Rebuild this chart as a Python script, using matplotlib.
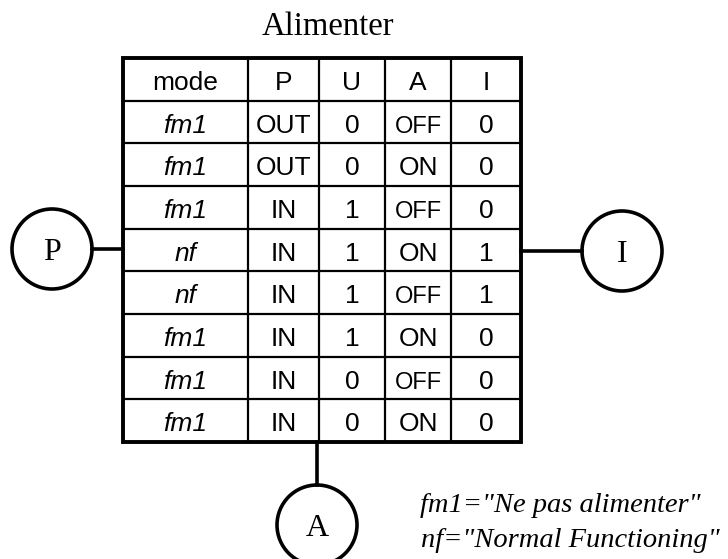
import matplotlib
matplotlib.use("Agg")
import matplotlib.pyplot as plt
from matplotlib.patches import Circle, Rectangle

# ---- data ----
title = "Alimenter"
columns = ["mode", "P", "U", "A", "I"]
mode = ["fm1", "fm1", "fm1", "nf", "nf", "fm1", "fm1", "fm1"]
P = ["OUT", "OUT", "IN", "IN", "IN", "IN", "IN", "IN"]
U = ["0", "0", "1", "1", "1", "1", "0", "0"]
A = ["OFF", "ON", "OFF", "ON", "OFF", "ON", "OFF", "ON"]
I = ["0", "0", "0", "1", "1", "0", "0", "0"]
ports = ["P", "I", "A"]
notes = ['fm1="Ne pas alimenter"', 'nf="Normal Functioning"']

# ---- layout (pixel space) ----
W, H = 728, 559
fig = plt.figure(figsize=(W / 100, H / 100), dpi=100)
ax = fig.add_axes([0, 0, 1, 1])
ax.set_xlim(0, W)
ax.set_ylim(H, 0)
ax.axis("off")

col_x = [123, 248, 319, 385, 451, 521]
top, bottom = 58, 442
nrows = len(mode) + 1
row_h = (bottom - top) / nrows
row_y = [top + i * row_h for i in range(nrows + 1)]

# inner grid lines
for x in col_x[1:-1]:
    ax.plot([x, x], [top, bottom], color="black", lw=1.6, solid_capstyle="butt")
for y in row_y[1:-1]:
    ax.plot([col_x[0], col_x[-1]], [y, y], color="black", lw=1.6, solid_capstyle="butt")
ax.add_patch(Rectangle((col_x[0], top), col_x[-1] - col_x[0], bottom - top,
                       fill=False, ec="black", lw=2.8))

sans = "Liberation Sans"
serif = "Liberation Serif"
fs = 19

def cx(j):
    return (col_x[j] + col_x[j + 1]) / 2

def by(i):
    return row_y[i] + 32

for j, c in enumerate(columns):
    ax.text(cx(j), by(0), c, ha="center", va="baseline", fontsize=fs, family=sans)

data = [mode, P, U, A, I]
for i in range(len(mode)):
    for j, col in enumerate(data):
        v = col[i]
        style = "italic" if j == 0 else "normal"
        size = fs
        if v == "OFF":
            size = 17
        ax.text(cx(j), by(i + 1), v, ha="center", va="baseline", fontsize=size,
                family=sans, style=style)

# title
ax.text(328, 35, title, ha="center", va="baseline", fontsize=23.5, family=serif)

# ports
r = 40
port_pos = {"P": (52, 249), "I": (622, 251), "A": (317, 525)}
for name in ports:
    x, y = port_pos[name]
    ax.add_patch(Circle((x, y), r, fill=False, ec="black", lw=2.6))
    ax.text(x, y + 11, name, ha="center", va="baseline", fontsize=23, family=serif)

# connectors
ax.plot([port_pos["P"][0] + r, col_x[0]], [249, 249], color="black", lw=2.6)
ax.plot([col_x[-1], port_pos["I"][0] - r], [251, 251], color="black", lw=2.6)
ax.plot([317, 317], [bottom, port_pos["A"][1] - r], color="black", lw=2.6)

# notes
ax.text(420, 512, notes[0], ha="left", va="baseline", fontsize=20.5, family=serif,
        style="italic")
ax.text(421, 547, notes[1], ha="left", va="baseline", fontsize=20.5, family=serif,
        style="italic")

fig.savefig("out.png", dpi=100, facecolor="white")
